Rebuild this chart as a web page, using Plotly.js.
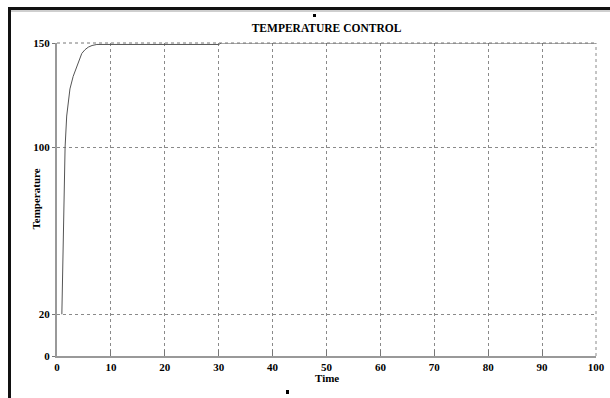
<!DOCTYPE html>
<html>
<head>
<meta charset="utf-8">
<script src="https://cdn.plot.ly/plotly-3.0.1.min.js"></script>
<style>
  html, body { margin: 0; padding: 0; background: #fff; }
  #chart { width: 610px; height: 398px; }
</style>
</head>
<body>
<div id="chart"></div>
<script>
// Data
const timeValues = [0.9, 1.2, 1.5, 1.8, 2.0, 2.4, 3.0, 3.9, 4.6, 5.2, 5.8, 6.5, 7.4, 30, 30.5, 100];
const temperatureValues = [20, 62, 100, 115, 120, 128, 134, 140, 145, 146.8, 148, 148.8, 149.3, 149.3, 150, 150];
const xTicks = [0, 10, 20, 30, 40, 50, 60, 70, 80, 90, 100];
const yTicks = [0, 20, 100, 150];
const chartTitle = 'TEMPERATURE CONTROL';
const xLabel = 'Time';
const yLabel = 'Temperature';

const fam = 'Liberation Serif, Times New Roman, serif';

const W = 610, H = 398, L = 57, R = 14, T = 43, B = 42;
const pw = W - L - R, ph = H - T - B;
const px = x => (x - L) / pw;
const py = y => (H - B - y) / ph;

const trace = {
  x: timeValues, y: temperatureValues, type: 'scatter', mode: 'lines',
  line: {color: '#555555', width: 1}, hoverinfo: 'skip'
};

const gridStyle = {showgrid: true, gridcolor: '#8a8a8a', griddash: 'dot', gridwidth: 1, zeroline: false};

const layout = {
  width: W, height: H,
  margin: {l: L, r: R, t: T, b: B},
  paper_bgcolor: '#ffffff', plot_bgcolor: '#ffffff', showlegend: false,
  font: {family: fam, color: '#000'},
  title: {
    text: '<b>' + chartTitle + '</b>',
    font: {family: fam, size: 11.5, color: '#000'},
    xref: 'paper', x: 0.5, xanchor: 'center',
    yref: 'container', y: 1 - 28 / H, yanchor: 'middle'
  },
  xaxis: Object.assign({
    range: [0, 100], tickmode: 'array', tickvals: xTicks,
    ticktext: xTicks.map(v => '<b>' + v + '</b>'),
    ticks: 'inside', ticklen: 6, tickcolor: '#777',
    tickfont: {family: fam, size: 11, color: '#000'},
    showline: true, linecolor: '#999', linewidth: 2, mirror: false
  }, gridStyle),
  yaxis: Object.assign({
    range: [0, 150], tickmode: 'array', tickvals: yTicks,
    ticktext: yTicks.map(v => '<b>' + v + '</b>'),
    ticks: 'outside', ticklen: 3, tickcolor: '#777',
    tickfont: {family: fam, size: 11, color: '#000'},
    showline: true, linecolor: '#999', linewidth: 2, mirror: false
  }, gridStyle),
  annotations: [
    {text: '<b>' + xLabel + '</b>', xref: 'paper', yref: 'paper', x: 0.5, y: py(378),
     xanchor: 'center', yanchor: 'middle', showarrow: false,
     font: {family: fam, size: 11, color: '#000'}},
    {text: '<b>' + yLabel + '</b>', xref: 'paper', yref: 'paper', x: px(35), y: 0.5,
     xanchor: 'center', yanchor: 'middle', showarrow: false, textangle: -90,
     font: {family: fam, size: 11, color: '#000'}}
  ],
  shapes: [
    {type: 'line', xref: 'paper', yref: 'paper', x0: 0, x1: 1, y0: 1, y1: 1,
     line: {color: '#777', width: 1, dash: 'dot'}},
    {type: 'line', xref: 'paper', yref: 'paper', x0: 1, x1: 1, y0: 0, y1: 1,
     line: {color: '#8a8a8a', width: 1, dash: 'dot'}},
    // outer frame
    {type: 'line', xref: 'paper', yref: 'paper', x0: px(11), x1: px(612), y0: py(11), y1: py(11),
     line: {color: '#cfcfcf', width: 2}},
    {type: 'line', xref: 'paper', yref: 'paper', x0: px(8), x1: px(612), y0: py(8.5), y1: py(8.5),
     line: {color: '#111111', width: 3}},
    {type: 'line', xref: 'paper', yref: 'paper', x0: px(9.5), x1: px(9.5), y0: py(7), y1: py(400),
     line: {color: '#111111', width: 3}},
    // small marks
    {type: 'rect', xref: 'paper', yref: 'paper', x0: px(313), x1: px(316), y0: py(14), y1: py(17),
     fillcolor: '#000', line: {width: 0}},
    {type: 'rect', xref: 'paper', yref: 'paper', x0: px(286), x1: px(289), y0: py(390), y1: py(394),
     fillcolor: '#000', line: {width: 0}}
  ]
};

Plotly.newPlot('chart', [trace], layout, {displayModeBar: false, staticPlot: true});
</script>
</body>
</html>
